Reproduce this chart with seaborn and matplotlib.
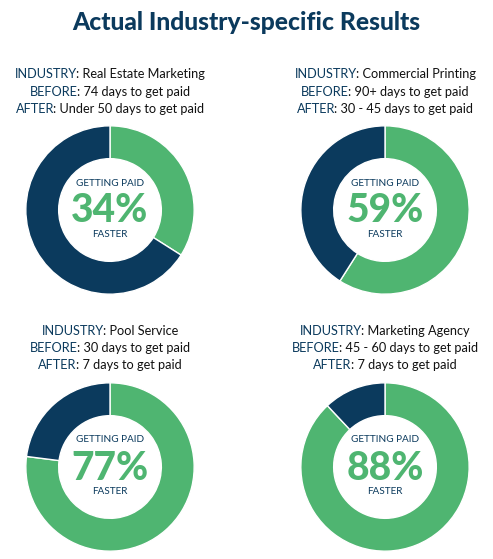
import numpy as np
import matplotlib
matplotlib.use('Agg')
import matplotlib.pyplot as plt
import seaborn as sns

industries = ['Real Estate Marketing', 'Commercial Printing', 'Pool Service', 'Marketing Agency']
before = ['74 days to get paid', '90+ days to get paid', '30 days to get paid', '45 - 60 days to get paid']
after = ['Under 50 days to get paid', '30 - 45 days to get paid', '7 days to get paid', '7 days to get paid']
faster_pct = [34, 59, 77, 88]

GREEN = '#4fb571'
NAVY = '#0b3a5d'
W, H = 493, 559

sns.set_theme(style='white')
plt.rcParams['font.family'] = ['Lato', 'DejaVu Sans']

fig = plt.figure(figsize=(W / 100, H / 100), dpi=100)
fig.patch.set_facecolor('white')
renderer = fig.canvas.get_renderer()

fig.text(0.5, 1 - 22 / H, 'Actual Industry-specific Results', ha='center', va='center',
         fontsize=17.7, fontweight='black', color=NAVY)


def two_tone(cx, cy, head, rest, size=9.2):
    # navy label + black text, centered as one line (pixel coords)
    t1 = fig.text(0, 0, head, fontsize=size, color=NAVY, va='center')
    t2 = fig.text(0, 0, ': ' + rest, fontsize=size, color='#111111', va='center')
    w1 = t1.get_window_extent(renderer).width - 1
    w2 = t2.get_window_extent(renderer).width
    x0 = cx - (w1 + w2) / 2
    t1.set_position((x0 / W, 1 - cy / H))
    t2.set_position(((x0 + w1) / W, 1 - cy / H))


centers = [(110, 210), (385, 210), (110, 467), (385, 467)]
text_y = [(74, 92, 109), (74, 92, 109), (331, 348, 365), (331, 348, 365)]
R = 85

for i, (cx, cy) in enumerate(centers):
    ys = text_y[i]
    two_tone(cx, ys[0], 'INDUSTRY', industries[i])
    two_tone(cx, ys[1], 'BEFORE', before[i])
    two_tone(cx, ys[2], 'AFTER', after[i])

    ax = fig.add_axes([(cx - R) / W, 1 - (cy + R) / H, 2 * R / W, 2 * R / H])
    ax.pie([faster_pct[i], 100 - faster_pct[i]], colors=[GREEN, NAVY],
           startangle=90, counterclock=False, radius=1,
           wedgeprops=dict(width=0.39, edgecolor='white', linewidth=1))
    ax.set_xlim(-1.01, 1.01)
    ax.set_ylim(-1.01, 1.01)
    ax.set_aspect('equal')

    fig.text(cx / W, 1 - (cy - 27) / H, 'GETTING PAID', ha='center', va='center',
             fontsize=7.2, color=NAVY)
    fig.text(cx / W, 1 - (cy + 1) / H, f'{faster_pct[i]}%', ha='center', va='center',
             fontsize=28, fontweight='black', color=GREEN)
    fig.text(cx / W, 1 - (cy + 24) / H, 'FASTER', ha='center', va='center',
             fontsize=7.2, color=NAVY)

fig.savefig('out.png', dpi=100, facecolor='white')
